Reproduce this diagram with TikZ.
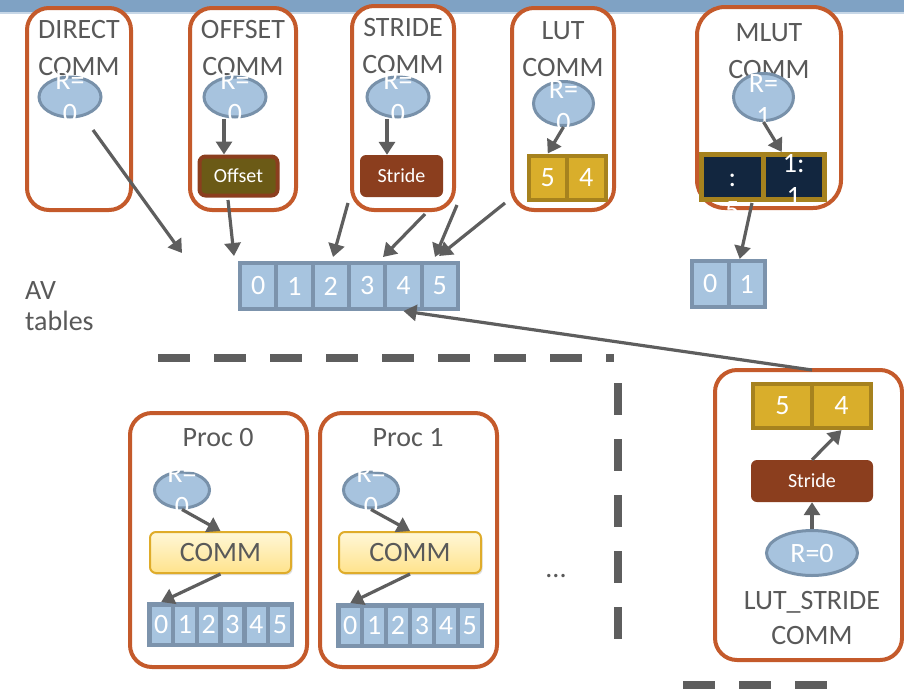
\documentclass[tikz,border=0pt]{standalone}
\usepackage{fontspec}
\setmainfont{Carlito}
\usetikzlibrary{shapes.geometric,arrows.meta,shadows}
\definecolor{frameorange}{HTML}{C45A2B}
\definecolor{labelgray}{HTML}{595959}
\definecolor{arrowgray}{HTML}{5E5E5E}
\definecolor{ellfill}{HTML}{A7C3DE}
\definecolor{ellborder}{HTML}{7891AA}
\definecolor{avfill}{HTML}{A7C4DF}
\definecolor{avborder}{HTML}{7C93AC}
\definecolor{goldfill}{HTML}{D9AE2B}
\definecolor{goldedge}{HTML}{A6821E}
\definecolor{rust}{HTML}{8B3E1E}
\definecolor{olive}{HTML}{6B5A16}
\definecolor{navy}{HTML}{12263F}
\definecolor{commtop}{HTML}{FFF7D8}
\definecolor{commbot}{HTML}{FFE38C}
\definecolor{commedge}{HTML}{DFAC2A}
\definecolor{barblue}{HTML}{7FA2C4}
\definecolor{barlight}{HTML}{C7D7E7}
\begin{document}
\begin{tikzpicture}[x=1pt,y=-1pt,
  frame/.style={draw=frameorange, line width=4pt, fill=white, rounded corners=22pt, inner sep=0},
  lbl/.style={text=labelgray, font=\fontsize{28}{37}\selectfont, align=center, inner sep=0},
  rell/.style={ellipse, draw=ellborder, fill=ellfill, line width=3pt, inner sep=0},
  rtxt/.style={text=white, font=\fontsize{28}{33}\selectfont, align=center, inner sep=0},
  conn/.style={draw=arrowgray, line width=3.2pt, -{Triangle[length=13pt,width=16pt]}},
  cellbase/.style={rectangle, inner sep=0, text=white, font=\fontsize{28}{33}\selectfont},
  avcell/.style={cellbase, draw=avborder, fill=avfill, line width=4pt},
  goldcell/.style={cellbase, draw=goldedge, fill=goldfill, line width=4pt},
  navycell/.style={cellbase, draw=goldedge, fill=navy, line width=5pt},
  tag/.style={rectangle, rounded corners=6pt, inner sep=0, text=white, font=\fontsize{20}{24}\selectfont},
  commbox/.style={rectangle, rounded corners=6pt, draw=commedge, line width=2pt,
    top color=commtop, bottom color=commbot, text=labelgray, inner sep=0,
    font=\fontsize{28}{33}\selectfont,
    drop shadow={opacity=0.25, shadow xshift=1.5pt, shadow yshift=-2pt}},
  dashline/.style={draw=arrowgray, line width=8pt, dash pattern=on 32pt off 24pt},
]
\useasboundingbox (0,0) rectangle (904,691);
\fill[white] (0,0) rectangle (904,691);

% title band
\fill[barblue] (0,0) rectangle (904,12);
\fill[barlight] (0,12) rectangle (904,14);

% communicator frames
\node[frame, minimum width=104pt, minimum height=202pt] (fDirect) at (79,109) {};
\node[frame, minimum width=106pt, minimum height=202pt] (fOffset) at (243,109) {};
\node[frame, minimum width=102pt, minimum height=204pt] (fStride) at (403,108) {};
\node[frame, minimum width=102pt, minimum height=202pt] (fLut) at (563,109) {};
\node[frame, minimum width=144pt, minimum height=201pt, rounded corners=28pt] (fMlut) at (769,107.5) {};
\node[frame, minimum width=177pt, minimum height=254pt] (fProc0) at (218.5,540) {};
\node[frame, minimum width=177pt, minimum height=254pt] (fProc1) at (408.5,540) {};
\node[frame, minimum width=187pt, minimum height=290pt] (fLutStride) at (808.5,515) {};

% frame titles
\node[lbl] (tDirect) at (79,48.5) {DIRECT\\COMM};
\node[lbl] (tOffset) at (243,48.5) {OFFSET\\COMM};
\node[lbl] (tStride) at (403,46.5) {STRIDE\\COMM};
\node[lbl] (tLut) at (563,49.5) {LUT\\COMM};
\node[lbl] (tMlut) at (769,51) {MLUT\\COMM};
\node[lbl] (tProc0) at (218,438) {Proc 0};
\node[lbl] (tProc1) at (408,438) {Proc 1};
\node[lbl, font=\fontsize{28}{35}\selectfont] (tLutStride) at (812,617.5) {LUT\_STRIDE\\COMM};
\node[lbl, align=left, anchor=west, font=\fontsize{28}{31}\selectfont] (tAV) at (25,306) {AV\\tables};
\node[lbl] (tDots) at (556,576) {...};

% rank ellipses
\node[rell, minimum width=62pt, minimum height=40pt] (eDirect) at (70,97) {};
\node[rell, minimum width=62pt, minimum height=40pt] (eOffset) at (235,97) {};
\node[rell, minimum width=62pt, minimum height=40pt] (eStride) at (398,97) {};
\node[rell, minimum width=60pt, minimum height=44pt] (eLut) at (563.5,103.5) {};
\node[rell, minimum width=60pt, minimum height=47pt] (eMlut) at (763.5,97) {};
\node[rell, minimum width=55pt, minimum height=36pt] (eP0) at (182,490) {};
\node[rell, minimum width=55pt, minimum height=36pt] (eP1) at (371,490) {};
\node[rell, minimum width=91pt, minimum height=45pt] (eLs) at (812,553) {};

\node[rtxt] (rDirect) at (70,97) {R=\\0};
\node[rtxt] (rOffset) at (235,97) {R=\\0};
\node[rtxt] (rStride) at (398,97) {R=\\0};
\node[rtxt] (rLut) at (563.5,106) {R=\\0};
\node[rtxt] (rMlut) at (763.5,100) {R=\\1};
\node[rtxt] (rP0) at (182,490) {R=\\0};
\node[rtxt] (rP1) at (371,490) {R=\\0};
\node[rtxt] (rLs) at (812,553) {R=0};

% offset and stride tags
\node[tag, fill=olive, draw=rust, line width=4pt, minimum width=78pt, minimum height=39pt] (bOffset) at (238.5,176) {Offset};
\node[tag, fill=rust, minimum width=83pt, minimum height=42pt] (bStride) at (401.5,176) {Stride};
\node[tag, fill=rust, minimum width=122pt, minimum height=42pt] (bStride2) at (812,481) {Stride};

% lookup tables
\node[goldcell, minimum width=38.5pt, minimum height=44pt] (lut5) at (547.75,177.5) {5};
\node[goldcell, minimum width=38.5pt, minimum height=44pt] (lut4) at (586.25,177.5) {4};
\node[goldcell, minimum width=59pt, minimum height=44pt] (ls5) at (782.5,406) {5};
\node[goldcell, minimum width=59pt, minimum height=44pt] (ls4) at (841.5,406) {4};
\node[navycell, minimum width=61.5pt, minimum height=45pt] (mlutL) at (732.25,177) {};
\node[navycell, minimum width=61.5pt, minimum height=45pt] (mlutR) at (793.75,177) {};
\node[rtxt] (mlutLt) at (732.25,197) {:\\5};
\node[rtxt] (mlutRt) at (793.75,179.5) {1:\\1};

% address vector tables
\foreach \i in {0,...,5}
  \node[avcell, minimum width=36.33pt, minimum height=46pt] (av\i) at ({240+36.33*(\i+0.5)},286) {\i};
\node[avcell, minimum width=36.5pt, minimum height=46pt] (sm0) at (710.25,284) {0};
\node[avcell, minimum width=36.5pt, minimum height=46pt] (sm1) at (746.75,284) {1};
\foreach \i in {0,...,5}
  \node[avcell, line width=4.5pt, minimum width=23.75pt, minimum height=40.5pt] (pa\i) at ({149.25+23.75*(\i+0.5)},624.5) {\i};
\foreach \i in {0,...,5}
  \node[avcell, line width=4.5pt, minimum width=23.92pt, minimum height=40.5pt] (pb\i) at ({338.25+23.92*(\i+0.5)},625.5) {\i};

% per-process communicators
\node[commbox, minimum width=141pt, minimum height=41pt] (comm0) at (220.5,552.5) {COMM};
\node[commbox, minimum width=142pt, minimum height=41pt] (comm1) at (410,552.5) {COMM};

% separators
\draw[dashline] (158,358) -- (614,358);
\draw[dashline] (618,383) -- (618,640);
\draw[dashline] (683,685) -- (827,685);

% connector end points
\coordinate (pDirA) at (93,130);
\coordinate (pDirB) at (182,253);
\coordinate (pOffA) at (228,200);
\coordinate (pOffB) at (234,256);
\coordinate (pStrA) at (348,203);
\coordinate (pStrB) at (333,257);
\coordinate (pStrC) at (425,214);
\coordinate (pStrD) at (383,257);
\coordinate (pStrE) at (457,205);
\coordinate (pStrF) at (435,257);
\coordinate (pLutA) at (505,203);
\coordinate (pLutB) at (439,256);
\coordinate (pLsA) at (812,370);
\coordinate (pOffE) at (224,119);
\coordinate (pStrG) at (387,119);
\coordinate (pMlA) at (752,203);

% connectors
\draw[conn] (pDirA) -- (pDirB);
\draw[conn] (pOffA) -- (pOffB);
\draw[conn] (pStrA) -- (pStrB);
\draw[conn] (pStrC) -- (pStrD);
\draw[conn] (pStrE) -- (pStrF);
\draw[conn] (pLutA) -- (pLutB);
\draw[conn] (pOffE) -- (pOffE |- bOffset.north);
\draw[conn] (pStrG) -- (pStrG |- bStride.north);
\draw[conn] (eLut.south) -- (lut5.north);
\draw[conn] (eMlut.south) -- ([xshift=-12pt]mlutR.north);
\draw[conn] (pMlA) -- ([xshift=-7pt]sm1.north);
\draw[conn] (eP0.south) -- (comm0.north);
\draw[conn] (comm0.south) -- (pa0.north);
\draw[conn] (eP1.south) -- (comm1.north);
\draw[conn] (comm1.south) -- (pb0.north);
\draw[conn] (eLs.north) -- (bStride2.south);
\draw[conn] (bStride2.north) -- (ls4.south);
\draw[conn] (pLsA) -- (av4.south);
\end{tikzpicture}
\end{document}
